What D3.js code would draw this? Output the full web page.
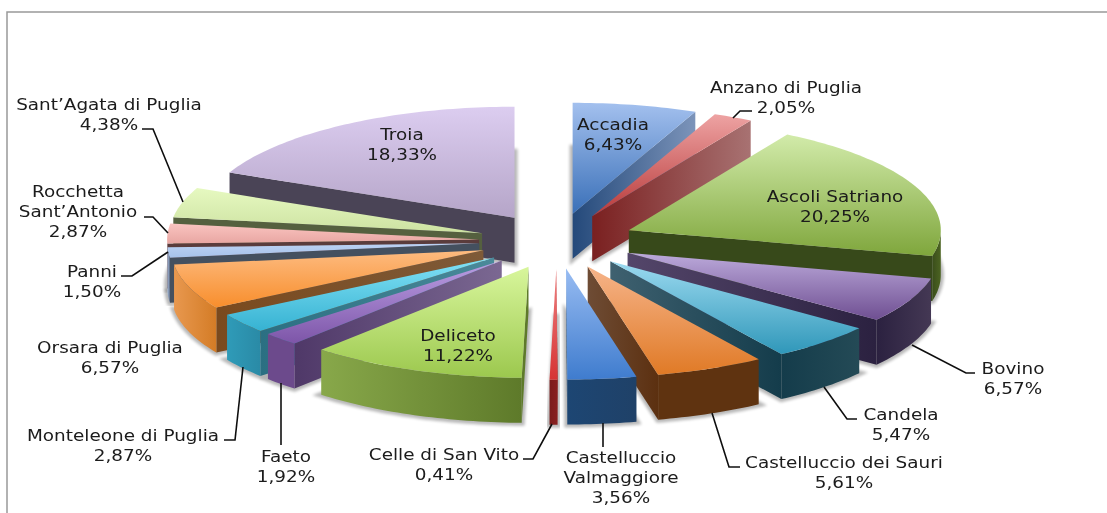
<!DOCTYPE html>
<html><head><meta charset="utf-8">
<script src="https://cdn.jsdelivr.net/npm/d3@7"></script>
<style>html,body{margin:0;padding:0;background:#fff}svg{display:block}</style>
</head><body><div id="chart"></div>
<script>
const categories=["Accadia","Anzano di Puglia","Ascoli Satriano","Bovino","Candela","Castelluccio dei Sauri","Castelluccio Valmaggiore","Celle di San Vito","Deliceto","Faeto","Monteleone di Puglia","Orsara di Puglia","Panni","Rocchetta Sant’Antonio","Sant’Agata di Puglia","Troia"];
const values=[6.43,2.05,20.25,6.57,5.47,5.61,3.56,0.41,11.22,1.92,2.87,6.57,1.50,2.87,4.38,18.33];
// top light, top dark
const topColors=[["#a3c0ee","#3a70b8"],["#eea3a3","#b83a3a"],["#d2ebaa","#7fa63c"],["#bcaadb","#6f4f92"],["#9cdaf0","#2f97b9"],["#f6b48a","#e07a26"],["#98bcf2","#3f7cce"],["#f08080","#d63434"],["#d8f69c","#9cc84e"],["#bb9fe4","#7d55a8"],["#82e2f6","#36b2d2"],["#fdbb80","#f88e2c"],["#bcd2f4","#a6c2ea"],["#fac4c0","#e8a6a2"],["#e6f9c0","#cde2a2"],["#dccdf0","#b5a5c8"]];
// radial wall: left, right
const wallColors=[["#24497a","#7c94ba"],["#7a2020","#a87272"],["#37491a","#37491a"],["#54466a","#2b2140"],["#3f6170","#143c4b"],["#6e4c35","#5c3010"],["#1d4673","#1d4673"],["#7a1c1c","#7a1c1c"],["#5e7a2a","#5e7a2a"],["#4f3868","#7b6892"],["#2b6f82","#4a8a9a"],["#7a4a1e","#7e5a38"],["#44505f","#44505f"],["#5a3c3c","#5a3c3c"],["#55603f","#55603f"],["#4a4456","#4a4456"]];
// outer wall: left, right
const rimColors=[["#24497a","#24497a"],["#7a2020","#7a2020"],["#3a4d1b","#4c6422"],["#2b2140","#443854"],["#143c4b","#244a56"],["#5f3310","#5f3310"],["#1d4673","#1f4168"],["#7a1c1c","#8a2020"],["#88a84a","#5e7a2a"],["#6c4a8c","#6c4a8c"],["#2f9bb8","#2a8aa6"],["#e8984f","#d47c26"],["#a6bcdc","#5d6c86"],["#a07878","#a07878"],["#8e9e70","#8e9e70"],["#4a4456","#4a4456"]];
// label centre, first-line y, and optional leader polyline
const labelLayout=[
 {x:613,y:124,lines:["Accadia"]},
 {x:786,y:87,lines:["Anzano di Puglia"],leader:[[733,118],[740,111],[752,111]]},
 {x:835,y:196,lines:["Ascoli Satriano"]},
 {x:1013,y:368,lines:["Bovino"],leader:[[912,345],[966,373],[975,373]]},
 {x:901,y:414,lines:["Candela"],leader:[[824,387],[847,419],[857,419]]},
 {x:844,y:462,lines:["Castelluccio dei Sauri"],leader:[[712,413],[729,467],[740,467]]},
 {x:621,y:457,lines:["Castelluccio","Valmaggiore"],leader:[[603,423],[603,447]]},
 {x:444,y:454,lines:["Celle di San Vito"],leader:[[523,459],[533,459],[552,424]]},
 {x:458,y:335,lines:["Deliceto"]},
 {x:286,y:456,lines:["Faeto"],leader:[[281,383],[281,445]]},
 {x:123,y:435,lines:["Monteleone di Puglia"],leader:[[224,440],[235,440],[243,367]]},
 {x:110,y:347,lines:["Orsara di Puglia"]},
 {x:92,y:271,lines:["Panni"],leader:[[121,276],[132,276],[168,252]]},
 {x:78,y:191,lines:["Rocchetta","Sant’Antonio"],leader:[[144,217],[153,217],[168,233]]},
 {x:109,y:104,lines:["Sant’Agata di Puglia"],leader:[[142,129],[153,129],[183,202]]},
 {x:402,y:134,lines:["Troia"]}
];
const W=1107,H=513,cx=557,cy=241,rx=312,ry=111,depth=45,explode=0.25,shadowSpread=6;
const x=d3.scaleLinear().domain([-1,1]).range([cx-rx,cx+rx]);
const y=d3.scaleLinear().domain([-1,1]).range([cy-ry,cy+ry]);
const fmt=d3.formatLocale({decimal:",",thousands:".",grouping:[3],currency:["","€"]}).format(".2f");
const svg=d3.select("#chart").append("svg").attr("width",W).attr("height",H);
const defs=svg.append("defs");
function grad(id,c,vertical){
  const g=defs.append("linearGradient").attr("id",id).attr("x1",0).attr("y1",0).attr("x2",vertical?0:1).attr("y2",vertical?1:0);
  g.append("stop").attr("offset",0).attr("stop-color",c[0]);
  g.append("stop").attr("offset",1).attr("stop-color",c[1]);
}
const sh=defs.append("filter").attr("id","shadow").attr("x","-20%").attr("y","-20%").attr("width","140%").attr("height","140%");
sh.append("feGaussianBlur").attr("stdDeviation",1.5);
const soft=defs.append("filter").attr("id","soft");
soft.append("feGaussianBlur").attr("stdDeviation",0.35);

// frame
svg.append("path").attr("d",d3.line()([[7,H],[7,12],[W,12]])).attr("fill","none").attr("stroke","#999").attr("stroke-width",1.5);

const arcs=d3.pie().sort(null).value(d=>d)(values);
const line=d3.line();
const slices=arcs.map((a,i)=>{
  const mid=(a.startAngle+a.endAngle)/2;
  const ox=explode*Math.sin(mid),oy=-explode*Math.cos(mid);
  const pt=(t,r,dz=0)=>[x(ox+r*Math.sin(t)),y(oy-r*Math.cos(t))+dz];
  return {a,i,mid,pt};
}).sort((p,q)=>Math.cos(q.mid)-Math.cos(p.mid));

const arcPts=(s,t0,t1,dz)=>{const n=Math.max(2,Math.ceil((t1-t0)/0.02));return d3.range(n+1).map(k=>s.pt(t0+(t1-t0)*k/n,1,dz));};
const pie=svg.append("g").attr("class","pie");
const gs=pie.selectAll("g.slice").data(slices).join("g").attr("class","slice");
gs.each(function(s){
  const g=d3.select(this),i=s.i,{startAngle:t0,endAngle:t1}=s.a;
  grad("top"+i,topColors[i],true);grad("wall"+i,wallColors[i],false);grad("rim"+i,rimColors[i],false);
  // shadow: the slice's lower face, spread outward and softened
  g.append("path").attr("d",line([s.pt(t0,0,depth)].concat(arcPts(s,t0,t1,depth)))+"Z")
    .attr("fill","#000").attr("stroke","#000").attr("stroke-width",shadowSpread).attr("stroke-linejoin","miter")
    .attr("opacity",0.28).attr("filter","url(#shadow)");
  const face=(t)=>[s.pt(t,0),s.pt(t,1),s.pt(t,1,depth),s.pt(t,0,depth)];
  const edge=Math.sin(s.mid)>0?t1:t0;
  g.append("path").attr("d",line(face(edge))+"Z").attr("fill",`url(#wall${i})`);
  const r0=Math.max(t0,Math.PI/2),r1=Math.min(t1,1.5*Math.PI);
  if(r1>r0){
    g.append("path").attr("d",line(arcPts(s,r0,r1,0).concat(arcPts(s,r0,r1,depth).reverse()))+"Z").attr("fill",`url(#rim${i})`);
  }
  g.append("path").attr("d",line([s.pt(t0,0)].concat(arcPts(s,t0,t1,0)))+"Z").attr("fill",`url(#top${i})`);
});
// labels
const txt=svg.append("g").attr("filter","url(#soft)").attr("font-family","'DejaVu Sans',sans-serif").attr("font-size",16).attr("fill","#1a1a1a").attr("text-anchor","middle");
labelLayout.forEach((l,i)=>{
  if(l.leader) txt.append("path").attr("d",line(l.leader)).attr("fill","none").attr("stroke","#111").attr("stroke-width",1.6);
  l.lines.concat(fmt(values[i])+"%").forEach((t,k)=>{
    txt.append("text").attr("transform",`translate(${l.x},${l.y+k*20}) scale(1.15,1)`).attr("dy",".36em").text(t);
  });
});
</script></body></html>
